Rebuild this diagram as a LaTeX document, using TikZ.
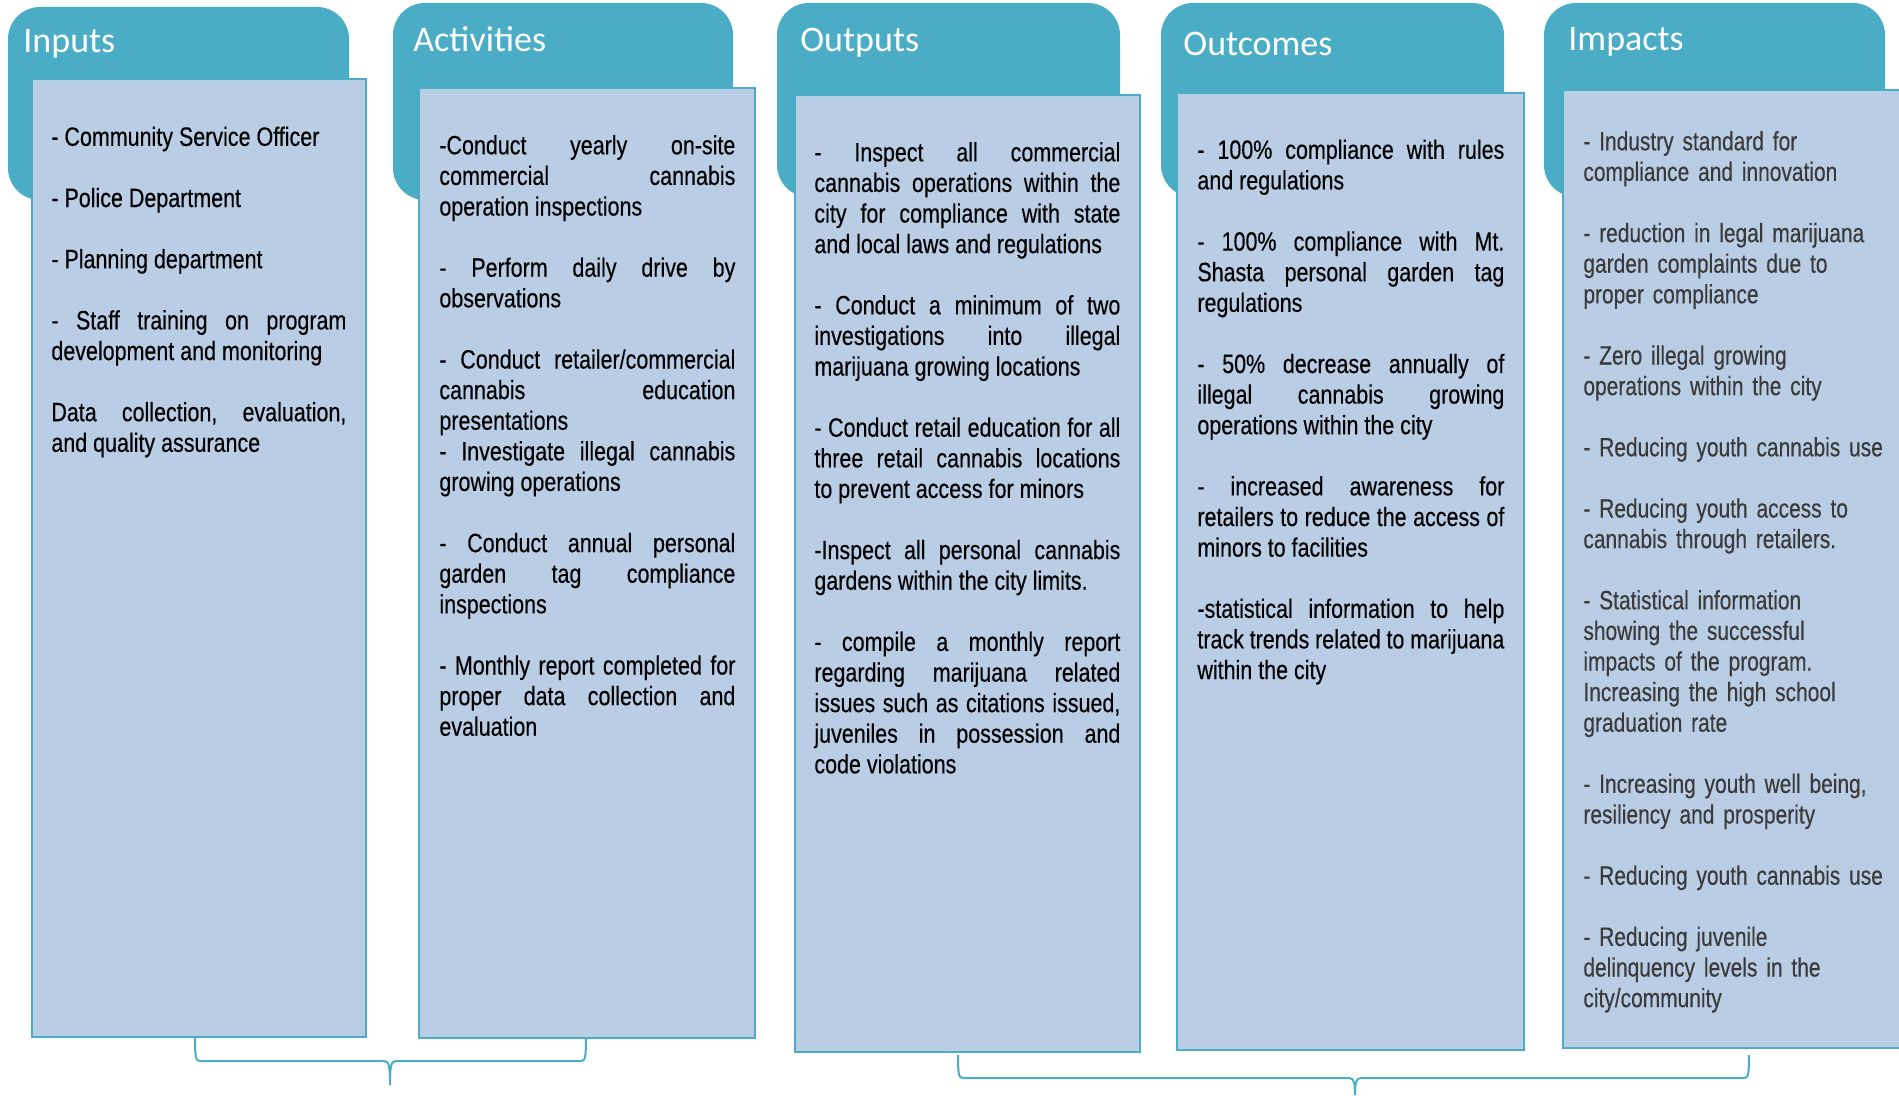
\documentclass[tikz,border=0pt]{standalone}
\usepackage{fontspec}
\usetikzlibrary{fit}
\newfontfamily\bodyfont[FakeStretch=0.81,FakeBold=0.3]{Liberation Sans}
\newfontfamily\impfont[FakeStretch=0.79,FakeBold=0.3]{Liberation Sans}
\newfontfamily\titlefont{Carlito}
\definecolor{teal5}{HTML}{4BACC6}
\definecolor{boxblue}{HTML}{B9CDE5}
\definecolor{impgrey}{HTML}{3A3A3A}
\newcommand\itemgap{\par\vspace{15.3pt}}
\newcommand\txtrules{\hyphenpenalty=10000 \exhyphenpenalty=10000 \tolerance=10000 \frenchspacing
  \spaceskip=\fontdimen2\font plus 3\fontdimen2\font minus .3\fontdimen2\font\relax}
\newcommand\txtsetup{\bodyfont\fontsize{13.25pt}{15.3pt}\selectfont\txtrules}
\newcommand\impsetup{\impfont\fontsize{13.25pt}{15.3pt}\selectfont\txtrules}
\begin{document}
\begin{tikzpicture}[x=0.5pt,y=-0.5pt,
  hdr/.style={fill=teal5, draw=none, rounded corners=16pt, inner sep=0pt},
  cbox/.style={fill=boxblue, draw=teal5, line width=0.7pt, inner sep=0pt},
  ttl/.style={anchor=base west, inner sep=0pt, text=white, font=\titlefont\fontsize{18pt}{21pt}\selectfont},
  txt/.style={anchor=north west, inner sep=0pt, align=justify, text width=#1, font=\txtsetup},
  imptxt/.style={anchor=north west, inner sep=0pt, align=left, text width=#1, font=\impsetup, text=impgrey},
  bracel/.style={draw=teal5, line width=1pt}]
\useasboundingbox (0,0) rectangle (1899,1096);
\clip (0,0) rectangle (1899,1096);

% headers
\node[hdr, fit={(8,7) (349,200)}] (h1) {};
\node[hdr, fit={(393,3) (733,200)}] (h2) {};
\node[hdr, fit={(777,3) (1120,197)}] (h3) {};
\node[hdr, fit={(1161,3) (1504,197)}] (h4) {};
\node[hdr, fit={(1544,3) (1885,197)}] (h5) {};

% content boxes
\node[cbox, fit={(32,79) (366,1037)}] (b1) {};
\node[cbox, fit={(419,88) (755,1038)}] (b2) {};
\node[cbox, fit={(795,95) (1140,1052)}] (b3) {};
\node[cbox, fit={(1177,93) (1524,1050)}] (b4) {};
\node[cbox, fit={(1563,90) (1935,1048)}] (b5) {};

% titles
\node[ttl] (n1) at (23,53) {Inputs};
\node[ttl] (n2) at (413,52) {Activities};
\node[ttl] (n3) at (800,52) {Outputs};
\node[ttl] (n4) at (1183,56) {Outcomes};
\node[ttl] (n5) at (1568,51) {Impacts};

% texts
\node[txt=147.5pt] (t1) at (51,124) {\strut- Community Service Officer\itemgap
- Police Department\itemgap
- Planning department\itemgap
- Staff training on program\linebreak development and monitoring\itemgap
Data collection, evaluation,\linebreak and quality assurance};

\node[txt=148pt] (t2) at (439,132.5) {\strut-Conduct yearly on-site\linebreak commercial cannabis\linebreak operation inspections\itemgap
- Perform daily drive by\linebreak observations\itemgap
- Conduct retailer/commercial\linebreak cannabis education\linebreak presentations\par
- Investigate illegal cannabis\linebreak growing operations\itemgap
- Conduct annual personal\linebreak garden tag compliance\linebreak inspections\itemgap
- Monthly report completed for\linebreak proper data collection and\linebreak evaluation};

\node[txt=153pt] (t3) at (814,139.5) {\strut- Inspect all commercial\linebreak cannabis operations within the\linebreak city for compliance with state\linebreak and local laws and regulations\itemgap
- Conduct a minimum of two\linebreak investigations into illegal\linebreak marijuana growing locations\itemgap
- Conduct retail education for all\linebreak three retail cannabis locations\linebreak to prevent access for minors\itemgap
-Inspect all personal cannabis\linebreak gardens within the city limits.\itemgap
- compile a monthly report\linebreak regarding marijuana related\linebreak issues such as citations issued,\linebreak juveniles in possession and\linebreak code violations};

\node[txt=153.5pt] (t4) at (1197,137) {\strut- 100\% compliance with rules\linebreak and regulations\itemgap
- 100\% compliance with Mt.\linebreak Shasta personal garden tag\linebreak regulations\itemgap
- 50\% decrease annually of\linebreak illegal cannabis growing\linebreak operations within the city\itemgap
- increased awareness for\linebreak retailers to reduce the access of\linebreak minors to facilities\itemgap
-statistical information to help\linebreak track trends related to marijuana\linebreak within the city};

\node[imptxt=155pt] (t5) at (1583,128.5) {\strut- Industry standard for\newline compliance and innovation\itemgap
- reduction in legal marijuana\newline garden complaints due to\newline proper compliance\itemgap
- Zero illegal growing\newline operations within the city\itemgap
- Reducing youth cannabis use\itemgap
- Reducing youth access to\newline cannabis through retailers.\itemgap
- Statistical information\newline showing the successful\newline impacts of the program.\newline Increasing the high school\newline graduation rate\itemgap
- Increasing youth well being,\newline resiliency and prosperity\itemgap
- Reducing youth cannabis use\itemgap
- Reducing juvenile\newline delinquency levels in the\newline city/community};

% braces
\coordinate (bl1) at (195,1037);
\coordinate (br1) at (586,1037);
\coordinate (bt1) at (390,1085);
\draw[bracel] (bl1) .. controls (195,1058) and (196,1061) .. (200,1061) -- (384,1061)
  .. controls (389,1061) and (390,1066) .. (bt1)
  .. controls (390,1066) and (391,1061) .. (396,1061) -- (581,1061)
  .. controls (585,1061) and (586,1058) .. (br1);

\coordinate (bl2) at (958,1055);
\coordinate (br2) at (1749,1055);
\coordinate (bt2) at (1355,1095);
\draw[bracel] (bl2) .. controls (958,1075) and (959,1078) .. (963,1078) -- (1349,1078)
  .. controls (1354,1078) and (1355,1083) .. (bt2)
  .. controls (1355,1083) and (1356,1078) .. (1361,1078) -- (1744,1078)
  .. controls (1748,1078) and (1749,1075) .. (br2);
\end{tikzpicture}
\end{document}
